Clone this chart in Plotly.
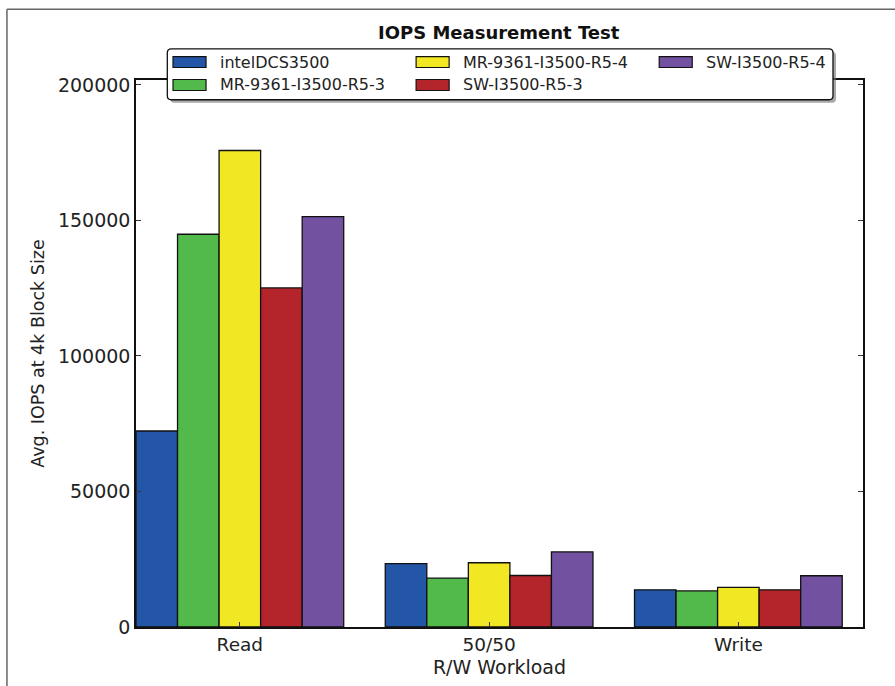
import plotly.graph_objects as go

# ---- data ----
categories = ["Read", "50/50", "Write"]
series_names = ["intelDCS3500", "MR-9361-I3500-R5-3", "MR-9361-I3500-R5-4",
                "SW-I3500-R5-3", "SW-I3500-R5-4"]
intel_vals = [72300, 23400, 13700]
mr_r53_vals = [144900, 18000, 13300]
mr_r54_vals = [175800, 23700, 14600]
sw_r53_vals = [125100, 19000, 13700]
sw_r54_vals = [151400, 27700, 18900]
y_ticks = [0, 50000, 100000, 150000, 200000]

series_values = [intel_vals, mr_r53_vals, mr_r54_vals, sw_r53_vals, sw_r54_vals]
colors = ["#2456A8", "#52B94B", "#F1E823", "#B3252B", "#7251A1"]

W, H = 895, 686
L, R, T, B = 136, 862.7, 79.5, 627.5
FONT = "DejaVu Sans"

fig = go.Figure()
for name, vals, col in zip(series_names, series_values, colors):
    fig.add_trace(go.Bar(
        x=categories, y=vals, name=name, showlegend=False,
        marker=dict(color=col, line=dict(color="#111", width=1.3)),
    ))


def px(x):
    return (x - L) / (R - L)


def py(y):
    return (B - y) / (B - T)


shapes = []
annotations = []

# outer frame lines of the picture (top and left)
shapes.append(dict(type="line", xref="paper", yref="paper",
                   x0=px(7), x1=px(900), y0=py(8.5), y1=py(8.5),
                   line=dict(color="#666", width=1.5)))
shapes.append(dict(type="line", xref="paper", yref="paper",
                   x0=px(7), x1=px(7), y0=py(8.5), y1=py(700),
                   line=dict(color="#666", width=1.5)))


def rounded_path(x0, y0, x1, y1, r):
    pts = [
        f"M {px(x0 + r)},{py(y0)}",
        f"L {px(x1 - r)},{py(y0)}",
        f"Q {px(x1)},{py(y0)} {px(x1)},{py(y0 + r)}",
        f"L {px(x1)},{py(y1 - r)}",
        f"Q {px(x1)},{py(y1)} {px(x1 - r)},{py(y1)}",
        f"L {px(x0 + r)},{py(y1)}",
        f"Q {px(x0)},{py(y1)} {px(x0)},{py(y1 - r)}",
        f"L {px(x0)},{py(y0 + r)}",
        f"Q {px(x0)},{py(y0)} {px(x0 + r)},{py(y0)}",
        "Z",
    ]
    return " ".join(pts)


# legend box with shadow
lx0, ly0, lx1, ly1 = 167.3, 48.3, 832.7, 99.3
shapes.append(dict(type="path", xref="paper", yref="paper",
                   path=rounded_path(lx0 + 3, ly0 + 3, lx1 + 3, ly1 + 3, 4),
                   fillcolor="rgba(110,110,110,0.6)", line=dict(width=0)))
shapes.append(dict(type="path", xref="paper", yref="paper",
                   path=rounded_path(lx0, ly0, lx1, ly1, 4),
                   fillcolor="white", line=dict(color="#111", width=1.3)))

col_x = [173, 416, 659]
row_y = [61.5, 84.5]
for i, (name, col) in enumerate(zip(series_names, colors)):
    c, r = divmod(i, 2)
    sx, sy = col_x[c], row_y[r]
    shapes.append(dict(type="rect", xref="paper", yref="paper",
                       x0=px(sx), x1=px(sx + 33), y0=py(sy - 5.5), y1=py(sy + 5.5),
                       fillcolor=col, line=dict(color="#111", width=1.2)))
    annotations.append(dict(xref="paper", yref="paper", x=px(sx + 45), y=py(sy),
                            xanchor="left", yanchor="middle", showarrow=False,
                            text=name, font=dict(family=FONT, size=16, color="#222")))

# title
annotations.append(dict(xref="paper", yref="paper", x=px(499), y=py(32),
                        xanchor="center", yanchor="middle", showarrow=False,
                        text="<b>IOPS Measurement Test</b>",
                        font=dict(family=FONT, size=18, color="#111")))

fig.update_layout(
    width=W, height=H,
    margin=dict(l=L, r=W - R, t=T, b=H - B, pad=0),
    paper_bgcolor="white", plot_bgcolor="white",
    barmode="group", bargap=1 / 6, bargroupgap=0,
    shapes=shapes, annotations=annotations,
    showlegend=False,
    font=dict(family=FONT, size=18, color="#222"),
)
fig.update_xaxes(
    type="category", range=[-5 / 12, 2.5],
    showline=True, linecolor="#111", linewidth=1.5, mirror="ticks",
    ticks="inside", ticklen=5, tickcolor="#333", tickwidth=1,
    showgrid=False, zeroline=False,
    tickfont=dict(family=FONT, size=18.5, color="#222"),
    title=dict(text="R/W Workload", font=dict(family=FONT, size=19, color="#222"),
               standoff=7),
)
fig.update_yaxes(
    range=[0, 201800], tickvals=y_ticks, ticktext=[str(v) for v in y_ticks],
    showline=True, linecolor="#111", linewidth=1.5, mirror="ticks",
    ticks="inside", ticklen=5, tickcolor="#333", tickwidth=1,
    showgrid=False, zeroline=False,
    tickfont=dict(family=FONT, size=19, color="#222"),
    title=dict(text="Avg. IOPS at 4k Block Size",
               font=dict(family=FONT, size=17.5, color="#222"), standoff=9),
)

fig.write_html("out.html",
               config={"displayModeBar": False},
               post_script="document.body.style.margin='0';document.body.style.overflow='hidden';")
